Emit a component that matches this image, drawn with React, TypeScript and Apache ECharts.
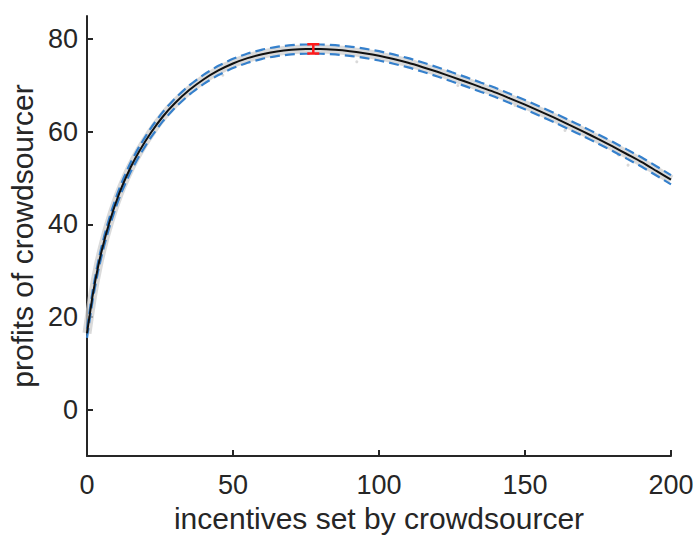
import React, { useEffect, useRef } from "react";
import * as echarts from "echarts";

// incentives (x) and mean profit of crowdsourcer (y)
const incentives = [0, 2, 4, 6, 8, 10, 12, 15, 18, 22, 26, 30, 35, 40, 45, 50, 55, 60, 65, 70, 75, 80, 85, 90, 95, 100, 105, 110, 115, 120, 125, 130, 135, 140, 145, 150, 155, 160, 165, 170, 175, 180, 185, 190, 195, 200];
const meanProfit = [16.5, 24.9, 31.5, 36.7, 41.1, 44.9, 48.2, 52.4, 55.9, 59.9, 63.3, 66.1, 69.0, 71.35, 73.25, 74.75, 75.9, 76.75, 77.35, 77.7, 77.85, 77.85, 77.7, 77.4, 76.95, 76.4, 75.7, 74.9, 73.95, 72.95, 71.85, 70.75, 69.6, 68.45, 67.15, 65.85, 64.45, 63.05, 61.55, 60.05, 58.45, 56.85, 55.15, 53.45, 51.55, 49.65];
const upperProfit = [17.5, 25.9, 32.5, 37.7, 42.1, 45.9, 49.2, 53.4, 56.9, 60.9, 64.3, 67.1, 70.0, 72.35, 74.25, 75.75, 76.9, 77.75, 78.35, 78.7, 78.85, 78.85, 78.7, 78.4, 77.95, 77.4, 76.7, 75.9, 74.95, 73.95, 72.85, 71.75, 70.6, 69.45, 68.15, 66.85, 65.45, 64.05, 62.55, 61.05, 59.45, 57.85, 56.15, 54.45, 52.55, 50.65];
const lowerProfit = [15.5, 23.9, 30.5, 35.7, 40.1, 43.9, 47.2, 51.4, 54.9, 58.9, 62.3, 65.1, 68.0, 70.35, 72.25, 73.75, 74.9, 75.75, 76.35, 76.7, 76.85, 76.85, 76.7, 76.4, 75.95, 75.4, 74.7, 73.9, 72.95, 71.95, 70.85, 69.75, 68.6, 67.45, 66.15, 64.85, 63.45, 62.05, 60.55, 59.05, 57.45, 55.85, 54.15, 52.45, 50.55, 48.65];

// scattered simulation outliers (x, y)
const outlierX = [46.5, 92.4, 127.0, 146.6, 163.7, 182.0, 185.3];
const outlierY = [72.2, 75.1, 70.0, 65.7, 60.3, 55.0, 52.8];

// optimum with error bar
const optimumX = [77.5];
const optimumY = [77.9];
const optimumErr = [1.0];

const yTicks = [0, 20, 40, 60, 80];

const FONT = "Liberation Sans";
const AXIS = "#262626";

export default function App() {
  const ref = useRef<HTMLDivElement>(null);
  useEffect(() => {
    if (!ref.current) return;
    const chart = echarts.init(ref.current, undefined, { renderer: "svg" });
    const pairs = (xs: number[], ys: number[]) => xs.map((x, i) => [x, ys[i]]);
    chart.setOption({
      animation: false,
      backgroundColor: "#ffffff",
      grid: { left: 87, right: 22, top: 16, bottom: 79, outerBoundsMode: "none", containLabel: false },
      xAxis: {
        type: "value",
        min: 0,
        max: 200,
        interval: 50,
        name: "incentives set by crowdsourcer",
        nameLocation: "middle",
        nameGap: 47,
        nameTextStyle: { fontFamily: FONT, fontSize: 30, color: AXIS },
        axisLine: { show: true, onZero: false, lineStyle: { color: AXIS, width: 2 } },
        axisTick: { show: true, inside: true, length: 6, lineStyle: { color: AXIS, width: 2 } },
        axisLabel: { fontFamily: FONT, fontSize: 27, color: AXIS, margin: 15, hideOverlap: false },
        splitLine: { show: false },
      },
      yAxis: {
        type: "value",
        min: -10,
        max: 85,
        name: "profits of crowdsourcer",
        nameLocation: "middle",
        nameRotate: 90,
        nameGap: 42,
        nameTextStyle: { fontFamily: FONT, fontSize: 30, color: AXIS },
        axisLine: { show: true, onZero: false, lineStyle: { color: AXIS, width: 2 } },
        axisTick: { show: true, inside: true, length: 6, customValues: yTicks, lineStyle: { color: AXIS, width: 2 } },
        axisLabel: { fontFamily: FONT, fontSize: 27, color: AXIS, margin: 9, customValues: yTicks },
        splitLine: { show: false },
      },
      series: [
        {
          name: "simulation",
          type: "line",
          data: pairs(incentives, meanProfit),
          showSymbol: false,
          smooth: 0.2,
          lineStyle: { color: "rgba(205,205,205,0.75)", width: 9 },
          z: 1,
        },
        {
          name: "outliers",
          type: "scatter",
          data: pairs(outlierX, outlierY),
          symbolSize: 3,
          itemStyle: { color: "#cfcfcf" },
          z: 1,
        },
        {
          name: "upper",
          type: "line",
          data: pairs(incentives, upperProfit),
          showSymbol: false,
          smooth: 0.2,
          lineStyle: { color: "#3580cc", width: 2.2, type: [10, 5] },
          z: 2,
        },
        {
          name: "lower",
          type: "line",
          data: pairs(incentives, lowerProfit),
          showSymbol: false,
          smooth: 0.2,
          lineStyle: { color: "#3580cc", width: 2.2, type: [10, 5] },
          z: 2,
        },
        {
          name: "mean",
          type: "line",
          data: pairs(incentives, meanProfit),
          showSymbol: false,
          smooth: 0.2,
          lineStyle: { color: "#111111", width: 2 },
          z: 3,
        },
        {
          name: "optimum",
          type: "custom",
          data: optimumX.map((x, i) => [x, optimumY[i], optimumErr[i]]),
          z: 4,
          renderItem: (params: any, api: any) => {
            const x = api.value(0);
            const y = api.value(1);
            const e = api.value(2);
            const top = api.coord([x, y + e]);
            const bot = api.coord([x, y - e]);
            const cap = 6;
            const style = { stroke: "#ff1a1a", lineWidth: 2.5 };
            return {
              type: "group",
              children: [
                { type: "line", shape: { x1: top[0], y1: top[1], x2: bot[0], y2: bot[1] }, style },
                { type: "line", shape: { x1: top[0] - cap, y1: top[1], x2: top[0] + cap, y2: top[1] }, style },
                { type: "line", shape: { x1: bot[0] - cap, y1: bot[1], x2: bot[0] + cap, y2: bot[1] }, style },
              ],
            };
          },
        },
      ],
    });
    return () => chart.dispose();
  }, []);
  return (
    <div
      ref={ref}
      style={{ position: "absolute", left: 0, top: 0, width: 693, height: 535 }}
    />
  );
}
